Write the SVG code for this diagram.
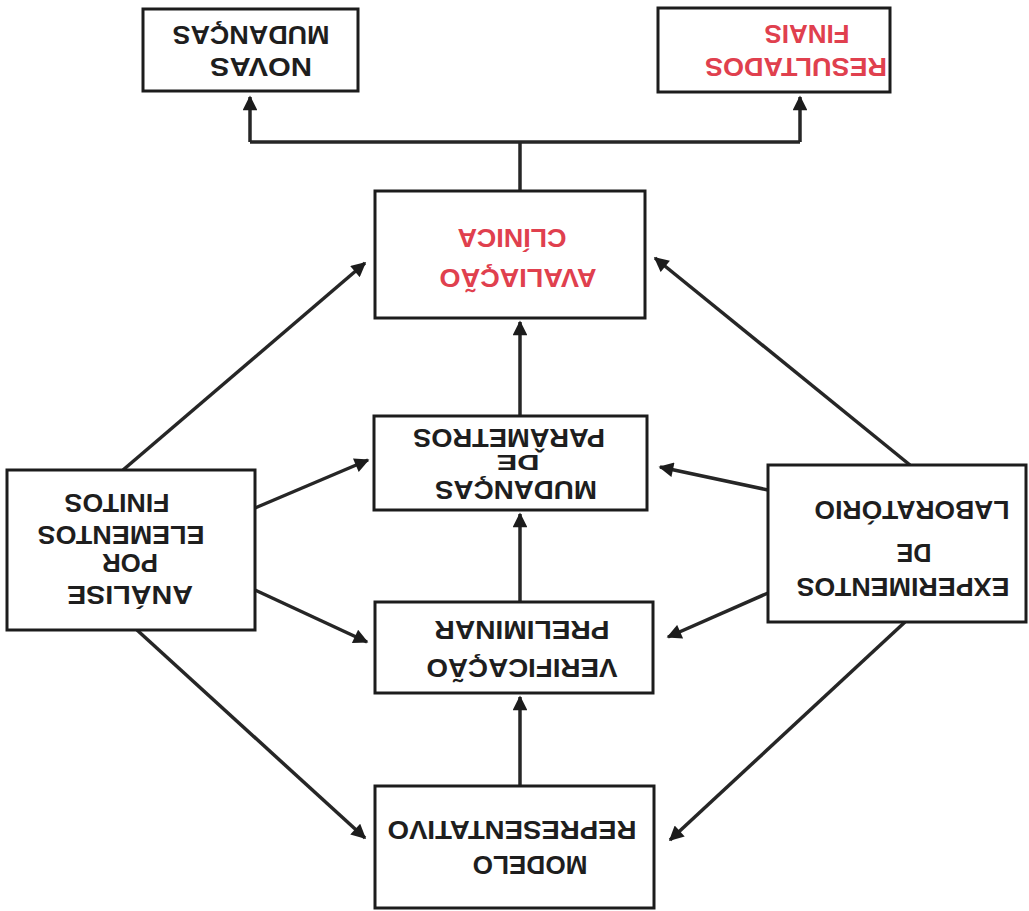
<svg xmlns="http://www.w3.org/2000/svg" width="1029" height="911" viewBox="0 0 1029 911">
<style>
.box{fill:#fff;stroke:#1c1c1c;stroke-width:3}
.t{font-family:"Liberation Sans",Arial,sans-serif;font-weight:bold;font-size:26px;fill:#1e1e1e;text-anchor:middle;dominant-baseline:central}
.r{fill:#e0404e}
.c{fill:none;stroke:#262626;stroke-width:3.5}
</style>
<defs>
<marker id="ah" viewBox="0 0 10 10" refX="9" refY="5" markerWidth="4.6" markerHeight="4.2" markerUnits="strokeWidth" orient="auto">
<path d="M0,0 L10,5 L0,10 z" fill="#1c1c1c"/>
</marker>
</defs>
<rect width="1029" height="911" fill="#fff"/>
<g id="connectors">
<polyline class="c" points="520,190 520,142"/>
<polyline class="c" points="250,142 800,142"/>
<polyline class="c" points="250,142 250,97" marker-end="url(#ah)"/>
<polyline class="c" points="800,142 800,97" marker-end="url(#ah)"/>
<line class="c" x1="520" y1="415" x2="520" y2="322" marker-end="url(#ah)"/>
<line class="c" x1="520" y1="601" x2="520" y2="514" marker-end="url(#ah)"/>
<line class="c" x1="520" y1="785" x2="520" y2="697" marker-end="url(#ah)"/>
<line class="c" x1="123" y1="470" x2="365" y2="263" marker-end="url(#ah)"/>
<line class="c" x1="255" y1="508" x2="368" y2="460" marker-end="url(#ah)"/>
<line class="c" x1="255" y1="590" x2="367" y2="642" marker-end="url(#ah)"/>
<line class="c" x1="137" y1="630" x2="365" y2="838" marker-end="url(#ah)"/>
<line class="c" x1="910" y1="465" x2="655" y2="258" marker-end="url(#ah)"/>
<line class="c" x1="768" y1="490" x2="660" y2="467" marker-end="url(#ah)"/>
<line class="c" x1="768" y1="593" x2="668" y2="637" marker-end="url(#ah)"/>
<line class="c" x1="905" y1="622" x2="670" y2="840" marker-end="url(#ah)"/>
</g>
<g id="novas">
<rect class="box" x="143" y="9" width="215" height="82"/>
<text class="t" x="261" y="67" transform="rotate(180 261 67)" textLength="102" lengthAdjust="spacingAndGlyphs">NOVAS</text>
<text class="t" x="251" y="35" transform="rotate(180 251 35)" textLength="157" lengthAdjust="spacingAndGlyphs">MUDANÇAS</text>
</g>
<g id="resultados">
<rect class="box" x="658" y="8" width="232" height="84"/>
<text class="t r" x="796" y="67" transform="rotate(180 796 67)" textLength="182" lengthAdjust="spacingAndGlyphs">RESULTADOS</text>
<text class="t r" x="807" y="34" transform="rotate(180 807 34)" textLength="85" lengthAdjust="spacingAndGlyphs">FINAIS</text>
</g>
<g id="avaliacao">
<rect class="box" x="375" y="191" width="270" height="127"/>
<text class="t r" x="518" y="278" transform="rotate(180 518 278)" textLength="157" lengthAdjust="spacingAndGlyphs">AVALIAÇÃO</text>
<text class="t r" x="512" y="238" transform="rotate(180 512 238)" textLength="109" lengthAdjust="spacingAndGlyphs">CLÍNICA</text>
</g>
<g id="mudancas">
<rect class="box" x="374" y="416" width="273" height="94"/>
<text class="t" x="516" y="490" transform="rotate(180 516 490)" textLength="162" lengthAdjust="spacingAndGlyphs">MUDANÇAS</text>
<text class="t" x="518" y="462" transform="rotate(180 518 462)" textLength="43" lengthAdjust="spacingAndGlyphs" style="font-size:22px">DE</text>
<text class="t" x="509" y="438" transform="rotate(180 509 438)" textLength="192" lengthAdjust="spacingAndGlyphs">PARÂMETROS</text>
</g>
<g id="verificacao">
<rect class="box" x="375" y="602" width="278" height="91"/>
<text class="t" x="522" y="668" transform="rotate(180 522 668)" textLength="191" lengthAdjust="spacingAndGlyphs">VERIFICAÇÃO</text>
<text class="t" x="522" y="630" transform="rotate(180 522 630)" textLength="175" lengthAdjust="spacingAndGlyphs">PRELIMINAR</text>
</g>
<g id="modelo">
<rect class="box" x="375" y="786" width="279" height="122"/>
<text class="t" x="530" y="865" transform="rotate(180 530 865)" textLength="115" lengthAdjust="spacingAndGlyphs">MODELO</text>
<text class="t" x="512" y="830" transform="rotate(180 512 830)" textLength="249" lengthAdjust="spacingAndGlyphs">REPRESENTATIVO</text>
</g>
<g id="analise">
<rect class="box" x="7" y="470" width="248" height="160"/>
<text class="t" x="130" y="595" transform="rotate(180 130 595)" textLength="126" lengthAdjust="spacingAndGlyphs">ANÁLISE</text>
<text class="t" x="130" y="563" transform="rotate(180 130 563)" textLength="56" lengthAdjust="spacingAndGlyphs">POR</text>
<text class="t" x="121" y="535" transform="rotate(180 121 535)" textLength="167" lengthAdjust="spacingAndGlyphs">ELEMENTOS</text>
<text class="t" x="117" y="503" transform="rotate(180 117 503)" textLength="105" lengthAdjust="spacingAndGlyphs">FINITOS</text>
</g>
<g id="experimentos">
<rect class="box" x="768" y="465" width="258" height="157"/>
<text class="t" x="903" y="587" transform="rotate(180 903 587)" textLength="213" lengthAdjust="spacingAndGlyphs">EXPERIMENTOS</text>
<text class="t" x="914" y="553" transform="rotate(180 914 553)" textLength="35" lengthAdjust="spacingAndGlyphs">DE</text>
<text class="t" x="912" y="510" transform="rotate(180 912 510)" textLength="195" lengthAdjust="spacingAndGlyphs">LABORATÓRIO</text>
</g>
</svg>
